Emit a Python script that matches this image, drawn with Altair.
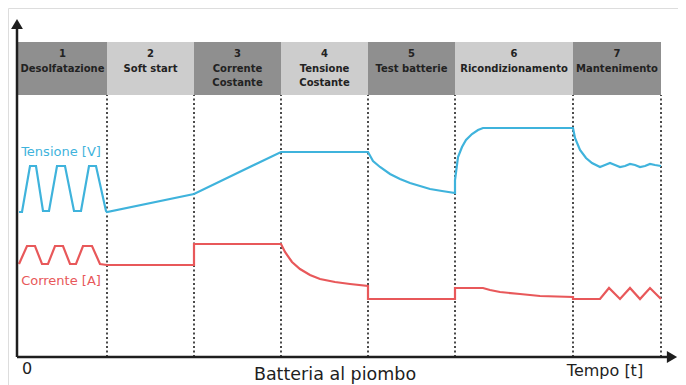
import altair as alt
import pandas as pd

# ---- data (time units along x, level units along y) ----
phase_edges = [1, 90, 177, 264, 351, 438, 556, 644]
phase_labels = ["1\nDesolfatazione", "2\nSoft start", "3\nCorrente\nCostante",
                "4\nTensione\nCostante", "5\nTest batterie", "6\nRicondizionamento",
                "7\nMantenimento"]
phase_shade = ["dark", "light", "dark", "light", "dark", "light", "dark"]

volt_t = [2, 5, 13, 19, 26, 32, 40, 48, 57, 64, 72, 79, 89, 90, 177, 264, 351, 356, 363,
          373, 383, 393, 403, 413, 425, 438, 438, 441, 445, 449, 455, 461, 466, 556, 558,
          563, 569, 575, 583, 588, 593, 598, 603, 608, 613, 618, 623, 628, 633, 638, 644]
volt_v = [145, 145, 191, 191, 146, 146, 191, 191, 146, 146, 191, 191, 146, 145, 163, 205,
          205, 196, 190, 183, 178, 174, 171, 168, 166, 164, 177, 200, 210, 217, 223, 227,
          229, 229, 219, 207, 199, 194, 190, 192, 194, 192, 190, 191, 193, 192, 190, 191,
          193, 192, 191]

curr_t = [2, 10, 18, 25, 31, 38, 46, 53, 59, 66, 75, 83, 90, 177, 177, 264, 268, 275, 283,
          293, 303, 318, 333, 351, 351, 438, 438, 466, 473, 483, 503, 523, 556, 556, 583,
          592, 603, 613, 623, 633, 644]
curr_v = [93, 111, 111, 93, 93, 111, 111, 93, 93, 111, 111, 93, 92, 92, 113, 113, 105, 95,
          88, 82, 78, 75, 73, 71, 58, 58, 69, 69, 67, 65, 63, 61, 60, 58, 58, 69, 58, 69,
          58, 69, 58]

header_bottom, header_top = 262, 315
axis_top = 334
axis_right = 656

BLUE = "#3fb3dc"
RED = "#e8585a"
INK = "#1e1e1e"
FONT = "DejaVu Sans"

xs = alt.Scale(domain=[-9, 661], nice=False, zero=False)
ys = alt.Scale(domain=[-28, 349], nice=False, zero=False)

def X(f="t"):
    return alt.X(f"{f}:Q", scale=xs, axis=None)

def Y(f="v"):
    return alt.Y(f"{f}:Q", scale=ys, axis=None)

# header blocks
hdr = pd.DataFrame({
    "t": phase_edges[:-1], "t2": phase_edges[1:],
    "v": [header_bottom] * 7, "v2": [header_top] * 7,
    "shade": phase_shade, "label": phase_labels,
})
hdr["tc"] = (hdr["t"] + hdr["t2"]) / 2
hdr["vt"] = header_top - 7

rects = alt.Chart(hdr).mark_rect().encode(
    x=X(), x2="t2", y=Y(), y2="v2",
    color=alt.Color("shade:N", scale=alt.Scale(domain=["dark", "light"],
                                                 range=["#8f8f8f", "#cdcdcd"]), legend=None),
)
hdr_text = alt.Chart(hdr).mark_text(
    baseline="top", align="center", lineBreak="\n", lineHeight=14.5,
    fontSize=10, font=FONT, fontWeight="bold", color="#222222",
).encode(x=X("tc"), y=Y("vt"), text="label:N")

# dotted separators
sep = pd.DataFrame({"t": phase_edges[1:], "v": [0] * 7, "v2": [header_bottom] * 7})
seps = alt.Chart(sep).mark_rule(color="#4a4a4a", strokeWidth=2, strokeDash=[2, 2.5]).encode(
    x=X(), y=Y(), y2="v2")

# curves
volt = pd.DataFrame({"t": volt_t, "v": volt_v, "i": range(len(volt_t))})
curr = pd.DataFrame({"t": curr_t, "v": curr_v, "i": range(len(curr_t))})
vline = alt.Chart(volt).mark_line(color=BLUE, strokeWidth=2.2).encode(
    x=X(), y=Y(), order="i:Q")
cline = alt.Chart(curr).mark_line(color=RED, strokeWidth=2.2).encode(
    x=X(), y=Y(), order="i:Q")

# axes
yax = alt.Chart(pd.DataFrame({"t": [0], "v": [0], "v2": [axis_top]})).mark_rule(
    color=INK, strokeWidth=2.5).encode(x=X(), y=Y(), y2="v2")
xax = alt.Chart(pd.DataFrame({"t": [0], "t2": [axis_right], "v": [0]})).mark_rule(
    color=INK, strokeWidth=2.5).encode(x=X(), x2="t2", y=Y())
yarrow = alt.Chart(pd.DataFrame({"t": [0], "v": [333]})).mark_point(
    shape="triangle-up", filled=True, size=140, color=INK, opacity=1).encode(x=X(), y=Y())
xarrow = alt.Chart(pd.DataFrame({"t": [655], "v": [0]})).mark_point(
    shape="triangle-right", filled=True, size=140, color=INK, opacity=1).encode(x=X(), y=Y())

# texts
side = pd.DataFrame({
    "t": [44, 44], "v": [205, 76],
    "txt": ["Tensione [V]", "Corrente [A]"], "kind": ["v", "a"],
})
side_lbl = alt.Chart(side).mark_text(font=FONT, fontSize=13, align="center",
                                     baseline="middle").encode(
    x=X(), y=Y(), text="txt:N",
    color=alt.Color("kind:N", scale=alt.Scale(domain=["v", "a"], range=[BLUE, RED]),
                    legend=None),
)
bottom = pd.DataFrame({
    "t": [10, 318, 588], "v": [-17, -23, -19],
    "txt": ["0", "Batteria al piombo", "Tempo [t]"],
    "size": [16, 17.5, 16],
})
bottom_lbl = alt.Chart(bottom).mark_text(font=FONT, align="center", baseline="alphabetic",
                                         color=INK).encode(
    x=X(), y=Y(), text="txt:N",
    size=alt.Size("size:Q", scale=None, legend=None),
)

chart = alt.layer(
    rects, hdr_text, seps, vline, cline, yax, xax, yarrow, xarrow, side_lbl, bottom_lbl
).resolve_scale(color="independent").properties(
    width=670, height=377,
    autosize=alt.AutoSizeParams(type="none"),
    padding=0,
).configure_view(stroke=None).configure(background="white")

chart.save("out.html", embed_options={"renderer": "svg", "actions": False})
